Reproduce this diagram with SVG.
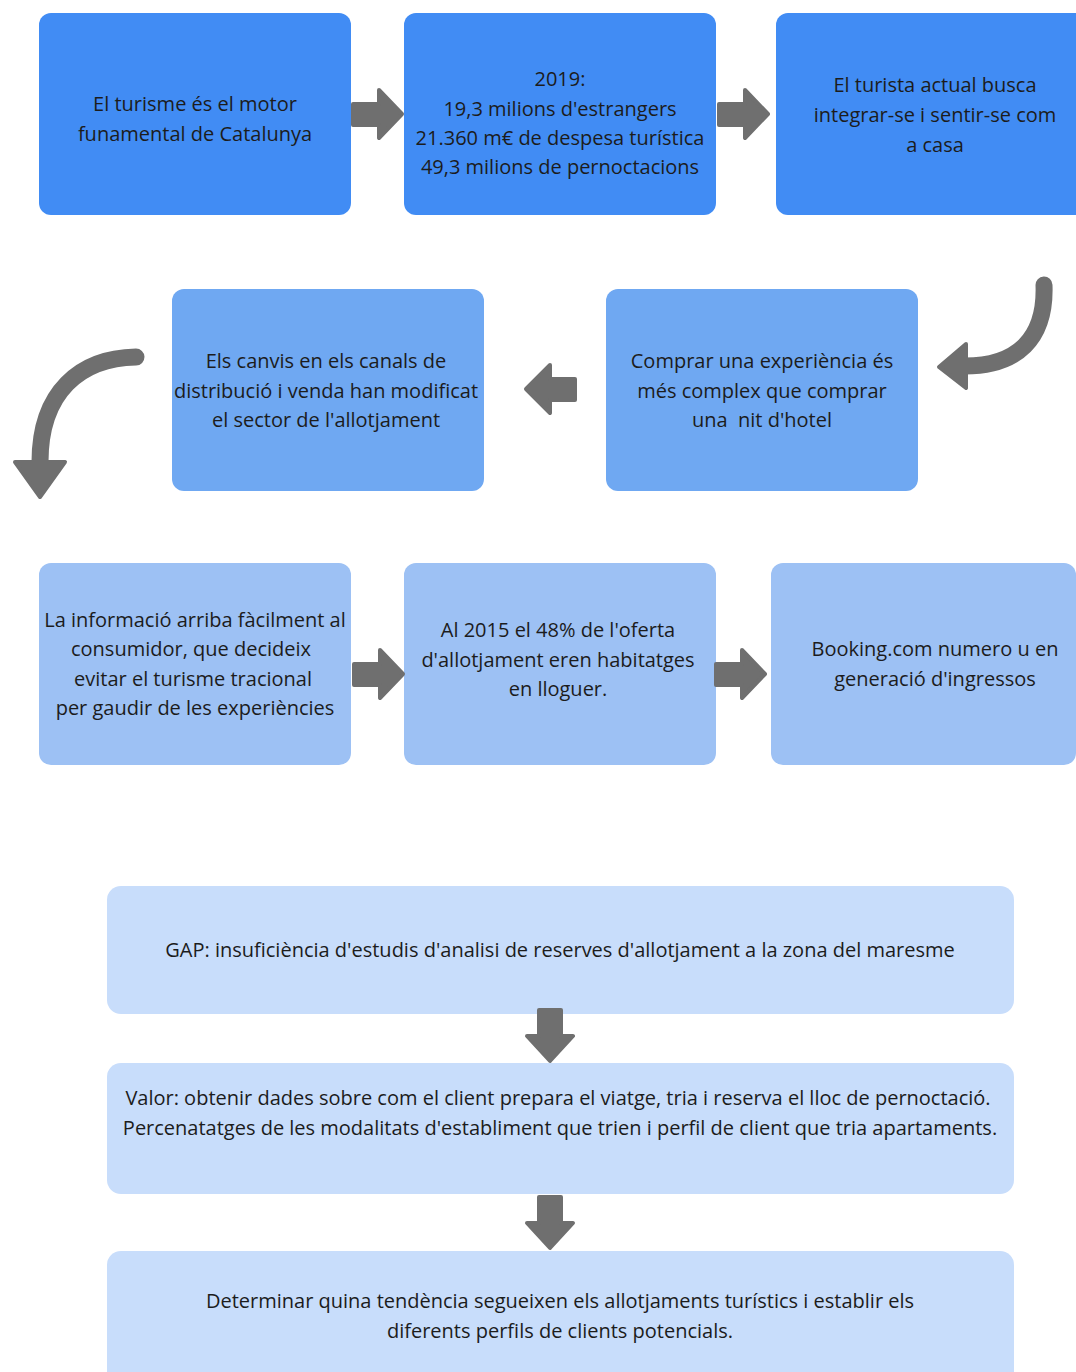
<svg xmlns="http://www.w3.org/2000/svg" width="1076" height="1372" viewBox="0 0 1076 1372">
  <style>
    .box { stroke: none; }
    .c1 { fill: #418cf4; }
    .c2 { fill: #6fa8f2; }
    .c3 { fill: #9dc1f4; }
    .c4 { fill: #c8ddfb; }
    text { font-family: "Open Sans", "Noto Sans", sans-serif; font-size: 20px; fill: #1c1c1c; text-anchor: middle; white-space: pre; }
    .arrow { fill: #6f6f6f; stroke: #6f6f6f; stroke-width: 4; stroke-linejoin: round; }
    .curve { fill: none; stroke: #6f6f6f; stroke-width: 17; stroke-linecap: round; }
  </style>
  <rect width="1076" height="1372" fill="#ffffff"/>

  <!-- first row -->
  <g id="n1">
    <rect class="box c1" x="39" y="13" width="312" height="202" rx="12"/>
    <text x="195" y="111">El turisme és el motor</text>
    <text x="195" y="141">funamental de Catalunya</text>
  </g>
  <g id="n2">
    <rect class="box c1" x="404" y="13" width="312" height="202" rx="12"/>
    <text x="560" y="86">2019:</text>
    <text x="560" y="116">19,3 milions d'estrangers</text>
    <text x="560" y="145">21.360 m€ de despesa turística</text>
    <text x="560" y="174">49,3 milions de pernoctacions</text>
  </g>
  <g id="n3">
    <rect class="box c1" x="776" y="13" width="320" height="202" rx="12"/>
    <text x="935" y="92">El turista actual busca</text>
    <text x="935" y="122">integrar-se i sentir-se com</text>
    <text x="935" y="152">a casa</text>
  </g>

  <!-- second row -->
  <g id="n4">
    <rect class="box c2" x="172" y="289" width="312" height="202" rx="12"/>
    <text x="326" y="368">Els canvis en els canals de</text>
    <text x="326" y="398">distribució i venda han modificat</text>
    <text x="326" y="427">el sector de l'allotjament</text>
  </g>
  <g id="n5">
    <rect class="box c2" x="606" y="289" width="312" height="202" rx="12"/>
    <text x="762" y="368">Comprar una experiència és</text>
    <text x="762" y="398">més complex que comprar</text>
    <text x="762" y="427">una  nit d'hotel</text>
  </g>

  <!-- third row -->
  <g id="n6">
    <rect class="box c3" x="39" y="563" width="312" height="202" rx="12"/>
    <text x="195" y="627">La informació arriba fàcilment al</text>
    <text x="191" y="656">consumidor, que decideix</text>
    <text x="193" y="686">evitar el turisme tracional</text>
    <text x="195" y="715">per gaudir de les experiències</text>
  </g>
  <g id="n7">
    <rect class="box c3" x="404" y="563" width="312" height="202" rx="12"/>
    <text x="558" y="637">Al 2015 el 48% de l'oferta</text>
    <text x="558" y="667">d'allotjament eren habitatges</text>
    <text x="558" y="696">en lloguer.</text>
  </g>
  <g id="n8">
    <rect class="box c3" x="771" y="563" width="305" height="202" rx="12"/>
    <text x="935" y="656">Booking.com numero u en</text>
    <text x="935" y="686">generació d'ingressos</text>
  </g>

  <!-- lower column -->
  <g id="n9">
    <rect class="box c4" x="107" y="886" width="907" height="128" rx="14"/>
    <text x="560" y="957">GAP: insuficiència d'estudis d'analisi de reserves d'allotjament a la zona del maresme</text>
  </g>
  <g id="n10">
    <rect class="box c4" x="107" y="1063" width="907" height="131" rx="14"/>
    <text x="558" y="1105">Valor: obtenir dades sobre com el client prepara el viatge, tria i reserva el lloc de pernoctació.</text>
    <text x="560" y="1135">Percenatatges de les modalitats d'establiment que trien i perfil de client que tria apartaments.</text>
  </g>
  <g id="n11">
    <rect class="box c4" x="107" y="1251" width="907" height="140" rx="14"/>
    <text x="560" y="1308">Determinar quina tendència segueixen els allotjaments turístics i establir els</text>
    <text x="560" y="1338">diferents perfils de clients potencials.</text>
  </g>

  <!-- connectors -->
  <g id="connectors">
    <!-- right-pointing block arrows -->
    <path class="arrow" d="M353,104 H379 V90 L402,114 L379,138 V125 H353 Z"/>
    <path class="arrow" d="M719,104 H745 V90 L768,114 L745,138 V125 H719 Z"/>
    <path class="arrow" d="M354,664 H380 V650 L403,674 L380,698 V685 H354 Z"/>
    <path class="arrow" d="M716,664 H742 V650 L765,674 L742,698 V685 H716 Z"/>
    <!-- left-pointing block arrow -->
    <path class="arrow" d="M575,379 H550 V365 L526,389 L550,413 V400 H575 Z"/>
    <!-- down-pointing block arrows -->
    <path class="arrow" d="M539,1010 V1036 H527 L550,1061 L573,1036 H561 V1010 Z"/>
    <path class="arrow" d="M539,1197 V1223 H527 L550,1248 L573,1223 H561 V1197 Z"/>
    <!-- curved arrow turning from the top row back to the second -->
    <path class="curve" d="M1044,285 C1046,338 1018,367 962,366"/>
    <path class="arrow" d="M966,344 L939,367 L966,388 Z"/>
    <!-- curved arrow turning from the second row down to the third -->
    <path class="curve" d="M136,357 C80,358 40,392 40,462"/>
    <path class="arrow" d="M15,462 L40,497 L65,462 Z"/>
  </g>
</svg>
